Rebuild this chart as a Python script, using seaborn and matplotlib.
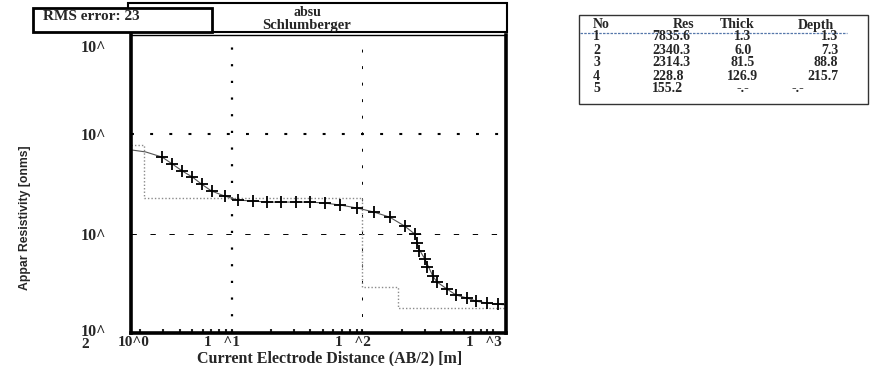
import numpy as np
import pandas as pd
import matplotlib
matplotlib.use("Agg")
import matplotlib.pyplot as plt
from matplotlib.patches import Rectangle
from matplotlib.transforms import ScaledTranslation
from matplotlib.font_manager import FontProperties
import seaborn as sns

sns.set_theme(style="white")
plt.rcParams['font.family'] = ['Liberation Serif', 'DejaVu Serif']

# measured data points (AB/2 in m, apparent resistivity)
ab2 = [2.94, 3.52, 4.20, 5.01, 5.88, 7.02, 8.84, 11.1, 14.5, 18.6, 23.8, 31.0, 39.8, 51.9,
       67.7, 91.5, 122, 161, 210, 251, 260, 270, 300, 311, 345, 371, 443, 519, 631, 740, 899, 1092]
rho = [5902, 5024, 4266, 3714, 3157, 2686, 2393, 2180, 2130, 2080, 2080, 2080, 2080, 2032,
       1941, 1811, 1651, 1469, 1193, 991, 804, 668, 555, 461, 374, 326, 277, 241, 225, 209, 200, 195]

# fitted curve
fit_ab2 = [1.73, 2.2, 2.94, 3.52, 4.20, 5.01, 5.88, 7.02, 8.84, 11.1, 14.5, 18.6, 23.8, 31.0, 39.8, 51.9,
           67.7, 91.5, 122, 161, 210, 251, 270, 300, 345, 371, 443, 519, 631, 740, 899, 1092, 1280]
fit_rho = [6950, 6650, 5902, 5024, 4266, 3714, 3157, 2686, 2393, 2180, 2130, 2080, 2080, 2080, 2080, 2032,
           1941, 1811, 1651, 1469, 1193, 991, 700, 555, 374, 326, 277, 241, 225, 209, 200, 195, 191]

# layered model (step line)
model_x = [1.7, 2.14, 100, 186, 1250]
model_rho = [7800, 2280, 290, 178, 178]

# table
layer_no = ["1", "2", "3", "4", "5"]
layer_res = ["7835.6", "2340.3", "2314.3", "228.8", "155.2"]
layer_thick = ["1.3", "6.0", "81.5", "126.9", "-.-"]
layer_depth = ["1.3", "7.3", "88.8", "215.7", "-.-"]

x_ticks = [10, 100, 1000]
x_ticklabels = ["1   ^1", "1   ^2", "1   ^3"]

W, H = 873, 366
fig = plt.figure(figsize=(W / 100, H / 100), dpi=100)
ax = fig.add_axes([131 / W, (H - 333) / H, 375 / W, 298 / H])

df_fit = pd.DataFrame({"ab2": fit_ab2, "rho": fit_rho})
df_obs = pd.DataFrame({"ab2": ab2, "rho": rho})
df_mod = pd.DataFrame({"ab2": model_x, "rho": model_rho})

sns.lineplot(data=df_mod, x="ab2", y="rho", ax=ax, color="#8a8a8a", lw=1.0,
             linestyle=(0, (1, 1.5)), drawstyle="steps-post", sort=False)
sns.lineplot(data=df_fit, x="ab2", y="rho", ax=ax, color="#555555", lw=0.8)
sns.scatterplot(data=df_obs, x="ab2", y="rho", ax=ax, marker="+", s=85, color="black",
                linewidth=1.3, zorder=5)

ax.set_xscale("log")
ax.set_yscale("log")
ax.set_xlim(1.7, 1250)
ax.set_ylim(100, 100000)

# grid lines
ax.axvline(10, color="black", lw=1.6, linestyle=(0, (1, 6.5)), zorder=1)
ax.axvline(100, color="black", lw=0.7, linestyle=(0, (3, 14)), zorder=1)
ax.axhline(10000, color="black", lw=1.5, linestyle=(0, (1.4, 7.8)), zorder=1)
ax.axhline(1000, color="black", lw=0.7, linestyle=(0, (5.5, 14)), zorder=1)

for side in ["left", "bottom", "right"]:
    ax.spines[side].set_linewidth(2.6)
    ax.spines[side].set_color("black")
ax.spines["top"].set_linewidth(1.0)
ax.spines["top"].set_color("black")

ax.set_yticks([1e5, 1e4, 1e3, 1e2])
ax.set_yticklabels(["10^", "10^", "10^", "10^"], fontsize=11.5, fontweight="bold")
ax.yaxis.set_minor_locator(matplotlib.ticker.NullLocator())
ax.tick_params(axis="y", length=0, pad=18)
ylabs = ax.get_yticklabels()
ylabs[0].set_transform(ylabs[0].get_transform() + ScaledTranslation(0, -8 / 72, fig.dpi_scale_trans))
ylabs[3].set_transform(ylabs[3].get_transform() + ScaledTranslation(0, 2 / 72, fig.dpi_scale_trans))

ax.set_xticks(x_ticks)
ax.set_xticklabels([])
ax.xaxis.set_minor_locator(matplotlib.ticker.LogLocator(base=10, subs=np.arange(2, 10)))
ax.xaxis.set_minor_formatter(matplotlib.ticker.NullFormatter())
ax.tick_params(axis="x", which="both", direction="in", length=3, width=1.5, bottom=True)

lab_kw = dict(fontsize=11, fontweight="bold", va="center")
xtr = ax.get_xaxis_transform() + ScaledTranslation(6 / 72, 0, fig.dpi_scale_trans)
for xv, lab in zip(x_ticks, x_ticklabels):
    ax.text(xv, -10 / 298, lab, transform=xtr, ha="right", **lab_kw)
fig.text(134 / W, 1 - 343 / H, "10^0", ha="center", **lab_kw)
fig.text(81 / W, 1 - 345 / H, "2", ha="left", **lab_kw)

ax.set_xlabel("")
ax.set_ylabel("")
fig.text(330 / W, 1 - 358 / H, "Current Electrode Distance (AB/2) [m]", fontsize=11.5,
         fontweight="bold", va="center", ha="center")
ylab_font = FontProperties(family="Liberation Sans", weight="bold", size=8.8)
fig.text(25 / W, 1 - 218 / H, "Appar Resistivity [onms]", rotation=90,
         fontproperties=ylab_font, va="center", ha="center")

# title boxes
def fig_rect(x0, y0, x1, y1, lw, z):
    r = Rectangle((x0 / W, 1 - y1 / H), (x1 - x0) / W, (y1 - y0) / H, transform=fig.transFigure,
                  facecolor="white", edgecolor="black", lw=lw, zorder=z)
    fig.add_artist(r)

fig_rect(128, 3, 507, 32, 1.5, 2)
fig_rect(33, 8, 212, 32, 2.0, 3)
fig.text(43 / W, 1 - 17 / H, "RMS error: 23", fontsize=11, fontweight="bold", va="center", ha="left", zorder=4)
fig.text(307 / W, 1 - 12 / H, "absu", fontsize=10, fontweight="bold", va="center", ha="center", zorder=4)
fig.text(307 / W, 1 - 25 / H, "Schlumberger", fontsize=10.5, fontweight="bold", va="center", ha="center", zorder=4)

# layer table
fig.add_artist(Rectangle((579 / W, 1 - 104 / H), 289 / W, 89 / H, transform=fig.transFigure,
                         facecolor="white", edgecolor="#333333", lw=1.0, zorder=2))
fig.add_artist(plt.Line2D([580 / W, 847 / W], [1 - 33 / H, 1 - 33 / H], transform=fig.transFigure,
                          color="#5577aa", lw=0.9, linestyle=(0, (2, 1)), zorder=3))
hy = 1 - 25 / H
tkw = dict(fontsize=10, fontweight="bold", va="center", zorder=4)
fig.text(593 / W, hy, "No", ha="left", **tkw)
fig.text(694 / W, hy, "Res", ha="right", **tkw)
fig.text(737 / W, hy, "Thick", ha="center", **tkw)
fig.text(834 / W, hy, "Depth", ha="right", **tkw)
row_y = [37, 50, 63, 76, 88]
for i in range(5):
    y = 1 - row_y[i] / H
    fig.text(593 / W, y, layer_no[i], ha="left", **tkw)
    fig.text(652 / W, y, layer_res[i], ha="left", **tkw)
    fig.text(743 / W, y, layer_thick[i], ha="center", **tkw)
    if layer_depth[i] == "-.-":
        fig.text(792 / W, y, layer_depth[i], ha="left", **tkw)
    else:
        fig.text(838 / W, y, layer_depth[i], ha="right", **tkw)

fig.savefig("out.png", dpi=100)
